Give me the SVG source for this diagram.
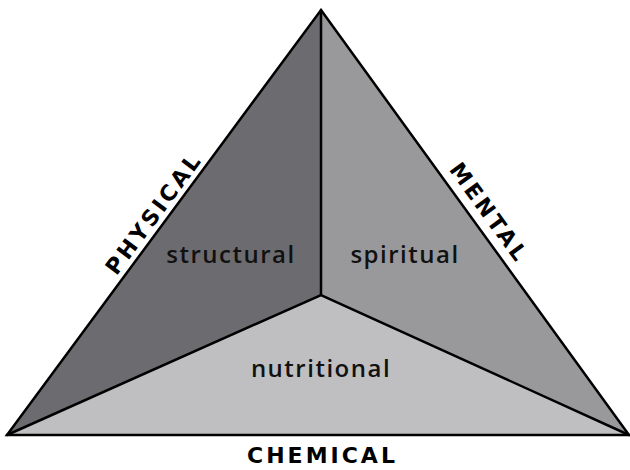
<svg xmlns="http://www.w3.org/2000/svg" width="630" height="470" viewBox="0 0 630 470">
<style>
.face{stroke:none}
.edge{stroke:#000;stroke-width:2.5;fill:none;stroke-linejoin:miter;stroke-linecap:round}
.lbl{font-family:"Open Sans","Noto Sans",sans-serif;font-size:24px;font-weight:600;fill:#111;text-anchor:middle;letter-spacing:1.5px}
.cap{font-family:"DejaVu Sans","Liberation Sans",sans-serif;font-weight:bold;font-size:22px;fill:#000;text-anchor:middle;letter-spacing:3px}
</style>
<rect width="630" height="470" fill="#fff"/>
<g id="structural">
<polygon class="face" points="321,10 321,295 7,435" fill="#6c6c70"/>
<text class="lbl" x="231" y="263">structural</text>
</g>
<g id="spiritual">
<polygon class="face" points="321,10 629,435 321,295" fill="#99999c"/>
<text class="lbl" x="405" y="263">spiritual</text>
</g>
<g id="nutritional">
<polygon class="face" points="7,435 321,295 629,435" fill="#bfbfc1"/>
<text class="lbl" x="321" y="377">nutritional</text>
</g>
<g id="connectors">
<polygon class="edge" points="321,10 629,435 7,435"/>
<polyline class="edge" points="321,10 321,295"/>
<polyline class="edge" points="7,435 321,295 629,435"/>
</g>
<g id="labels">
<text class="cap" transform="translate(159,219) rotate(-53.5)" x="1.5" y="0">PHYSICAL</text>
<text class="cap" transform="translate(482,216) rotate(54.1)" x="1.5" y="0">MENTAL</text>
<text class="cap" x="322.5" y="463">CHEMICAL</text>
</g>
</svg>
